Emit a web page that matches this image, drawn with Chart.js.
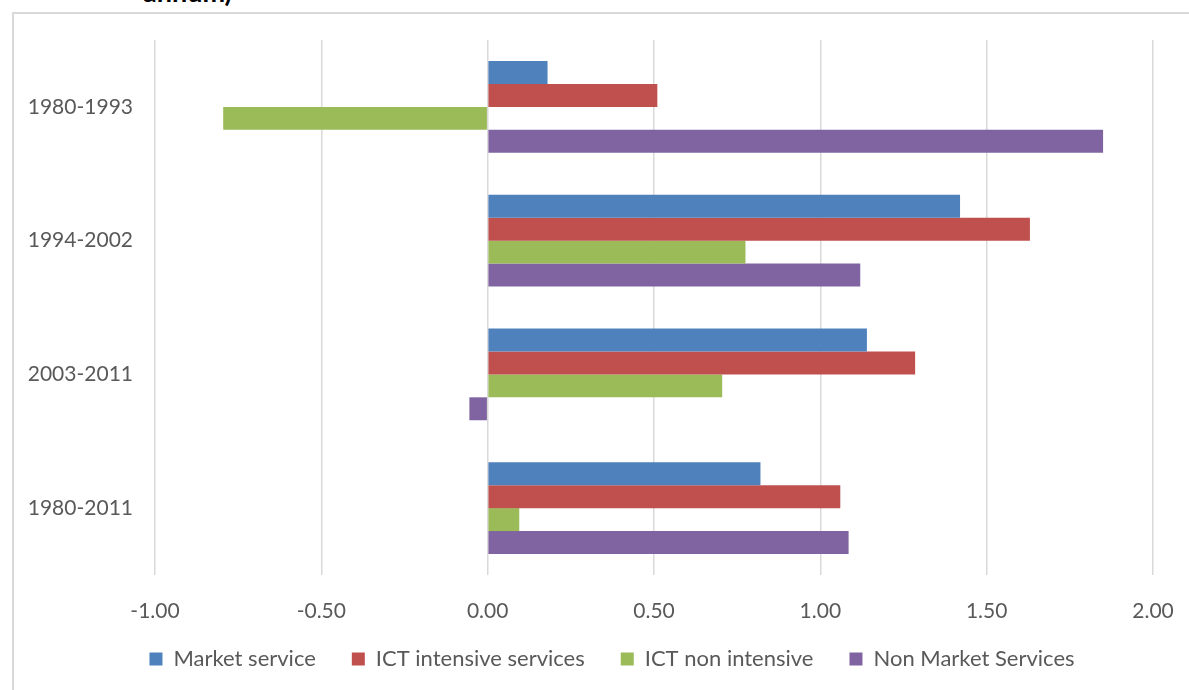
<!DOCTYPE html>
<html>
<head>
<meta charset="utf-8">
<title>Services growth by period</title>
<script src="https://cdn.jsdelivr.net/npm/chart.js@4"></script>
<style>
  html, body { margin: 0; padding: 0; background: #fff; overflow: hidden; }
  body { width: 1189px; height: 690px; position: relative; }
  #frame {
    position: absolute; left: 12px; top: 12px; width: 1220px; height: 720px;
    border: 2px solid #d9d9d9; box-sizing: border-box;
  }
  #title {
    position: absolute; left: 143px; top: -22px; margin: 0;
    font: bold 27px Lato, sans-serif; color: #000; line-height: 27px; white-space: nowrap;
  }
  #wrap { position: absolute; left: 0; top: 0; width: 1224px; height: 690px; }
</style>
</head>
<body>
<div id="frame"></div>
<p id="title">annum)</p>
<div id="wrap"><canvas id="growthChart"></canvas></div>
<script>
// ── Data ────────────────────────────────────────────────────────────────────
const periods = ['1980-1993', '1994-2002', '2003-2011', '1980-2011'];

const marketService        = [0.18, 1.42, 1.14, 0.82];
const ictIntensive         = [0.51, 1.63, 1.285, 1.06];
const ictNonIntensive      = [-0.795, 0.775, 0.705, 0.095];
const nonMarketServices    = [1.85, 1.12, -0.055, 1.085];

const seriesNames  = ['Market service', 'ICT intensive services', 'ICT non intensive', 'Non Market Services'];
const seriesColors = ['#4f81bd', '#c0504d', '#9bbb59', '#8064a2'];

const xTicks = [-1, -0.5, 0, 0.5, 1, 1.5, 2];

// ── Chart ───────────────────────────────────────────────────────────────────
const font = { family: 'Lato, sans-serif', size: 21 };
const legendFont = { family: 'Lato, sans-serif', size: 22 };
const textColor = '#595959';

// axis boxes are kept tight so the legend can sit close; let labels spill out of them
const noLabelClip = scale => { scale._computeLabelArea = () => null; };

const datasets = [marketService, ictIntensive, ictNonIntensive, nonMarketServices].map((vals, i) => ({
  label: seriesNames[i],
  data: vals,
  backgroundColor: seriesColors[i],
  borderWidth: 0,
  categoryPercentage: 0.686,
  barPercentage: 1.0,
}));

new Chart(document.getElementById('growthChart'), {
  type: 'bar',
  data: { labels: periods, datasets },
  options: {
    indexAxis: 'y',
    responsive: true,
    maintainAspectRatio: false,
    animation: false,
    layout: { padding: { top: 40, right: 71, left: 71, bottom: 10 } },
    plugins: {
      legend: {
        position: 'bottom',
        labels: {
          font: legendFont, color: textColor,
          boxWidth: 13, boxHeight: 13,
          padding: 36,
        }
      },
      tooltip: { enabled: false }
    },
    scales: {
      x: {
        min: -1, max: 2,
        afterBuildTicks: scale => { scale.ticks = xTicks.map(v => ({ value: v })); },
        afterFit: scale => { scale.height = 37; noLabelClip(scale); },
        grid: { color: '#d9d9d9', lineWidth: 1.5, drawTicks: false },
        border: { display: false },
        ticks: { font, color: textColor, padding: 24, callback: v => Number(v).toFixed(2) }
      },
      y: {
        afterFit: scale => { scale.width = 84; noLabelClip(scale); },
        grid: { display: false, drawTicks: false },
        border: { display: false },
        ticks: { font, color: textColor, padding: 22 }
      }
    }
  }
});
</script>
</body>
</html>
